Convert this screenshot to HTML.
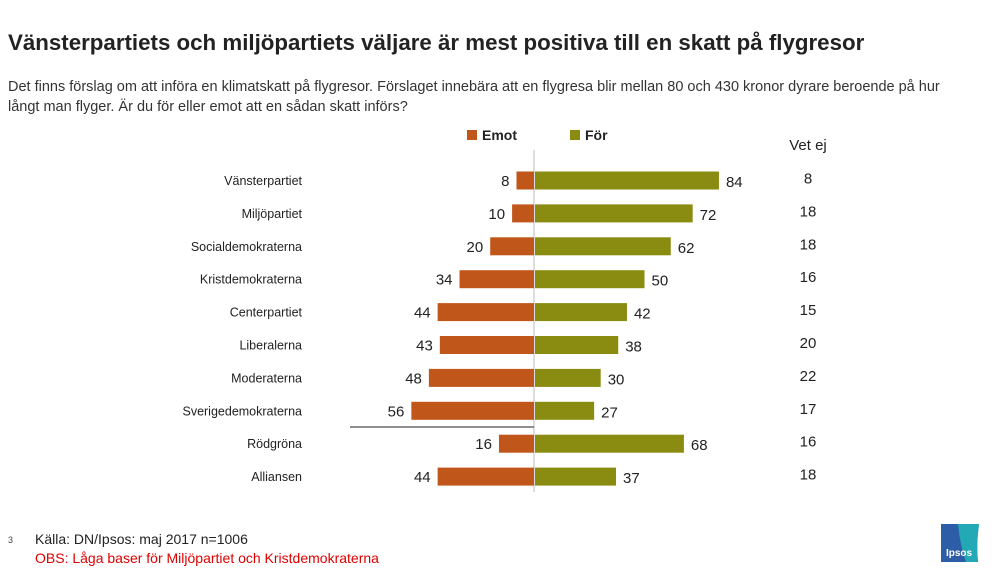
<!DOCTYPE html>
<html><head><meta charset="utf-8"><style>
body{margin:0;background:#fff;width:997px;height:570px;overflow:hidden;font-family:"Liberation Sans",sans-serif;}
svg text{font-family:"Liberation Sans",sans-serif;}
</style></head><body>
<svg width="997" height="570">
<text x="8" y="50" font-size="22.3" font-weight="bold" fill="#222">Vänsterpartiets och miljöpartiets väljare är mest positiva till en skatt på flygresor</text>
<text x="8" y="91" font-size="14.5" fill="#333">Det finns förslag om att införa en klimatskatt på flygresor.  Förslaget innebära att en flygresa blir mellan 80 och 430 kronor dyrare beroende på hur</text>
<text x="8" y="111" font-size="14.5" fill="#333">långt man flyger. Är du för eller emot att en sådan skatt införs?</text>
<rect x="467" y="130" width="10" height="10" fill="#C0561A"/>
<text x="482" y="140" font-size="14" font-weight="bold" fill="#222">Emot</text>
<rect x="570" y="130" width="10" height="10" fill="#8A8C12"/>
<text x="585" y="140" font-size="14" font-weight="bold" fill="#222">För</text>
<text x="808" y="150" font-size="15" text-anchor="middle" fill="#222">Vet ej</text>
<line x1="534" y1="150" x2="534" y2="492" stroke="#bbb" stroke-width="1"/>
<line x1="350" y1="427" x2="534" y2="427" stroke="#222" stroke-width="1"/>
<g id="bars"></g>
<text x="8" y="543" font-size="9" fill="#444">3</text>
<text x="35" y="544" font-size="14" fill="#222">Källa: DN/Ipsos: maj 2017 n=1006</text>
<text x="35" y="563" font-size="14" fill="#E00000">OBS: Låga baser för Miljöpartiet och Kristdemokraterna</text>
<g>
<path d="M941 524 L979 524 Q976 545 978 562 L941 562 Z" fill="#2E5DA8"/>
<path d="M958 524 L979 524 Q976 545 978 562 L966 562 Q960 545 958 524 Z" fill="#23A9B5"/>
<text x="959" y="556" font-size="10" font-weight="bold" fill="#fff" text-anchor="middle">Ipsos</text>
</g>
</svg>
<script>
const categories=["Vänsterpartiet","Miljöpartiet","Socialdemokraterna","Kristdemokraterna","Centerpartiet","Liberalerna","Moderaterna","Sverigedemokraterna","Rödgröna","Alliansen"];
const emot=[8,10,20,34,44,43,48,56,16,44];
const forv=[84,72,62,50,42,38,30,27,68,37];
const vetej=[8,18,18,16,15,20,22,17,16,18];
const NS="http://www.w3.org/2000/svg";
const g=document.getElementById('bars');
const cx=534, k=2.19;
const xs=v=>v*k;
const yc=i=>180.5+i*32.9;
function mk(t,a,txt){const e=document.createElementNS(NS,t);for(const n in a)e.setAttribute(n,a[n]);if(txt!==undefined)e.textContent=txt;g.appendChild(e);return e;}
categories.forEach((c,i)=>{
 const y=yc(i);
 let e=mk('text',{x:302,y:y+4.5,'font-size':12.5,'text-anchor':'end',fill:'#222'},c);
 
 
 e=mk('rect',{x:cx-xs(emot[i]),y:y-9,width:xs(emot[i]),height:18,fill:'#C0561A'});
 
 
 e=mk('rect',{x:cx+1,y:y-9,width:xs(forv[i]),height:18,fill:'#8A8C12'});
 
 
 e=mk('text',{x:cx-xs(emot[i])-7,y:y+5.5,'font-size':15,'text-anchor':'end',fill:'#222'},emot[i]);
 
 
 e=mk('text',{x:cx+1+xs(forv[i])+7,y:y+6.5,'font-size':15,fill:'#222'},forv[i]);
 
 
 e=mk('text',{x:808,y:y+3,'font-size':15,'text-anchor':'middle',fill:'#222'},vetej[i]);
 
 
});
</script>
</body></html>
